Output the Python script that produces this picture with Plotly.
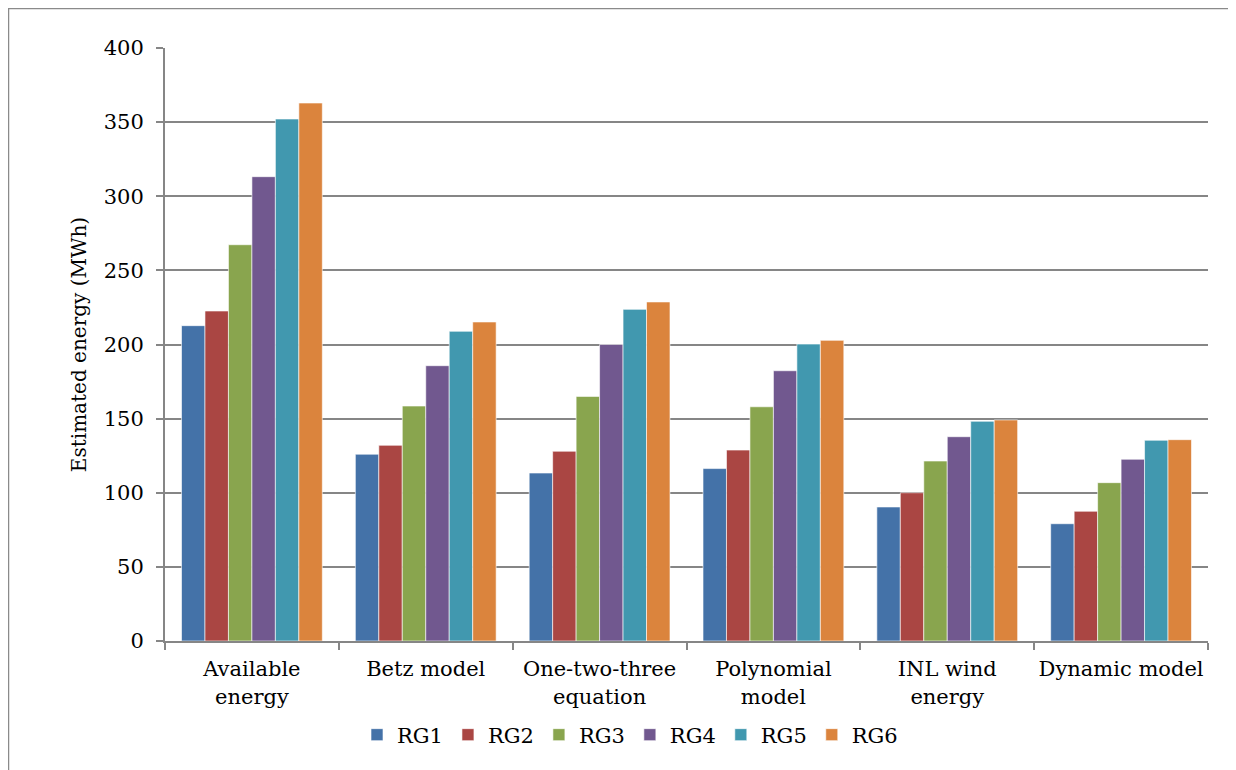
import plotly.graph_objects as go

CATEGORIES = ["Available<br>energy", "Betz model", "One-two-three<br>equation",
              "Polynomial<br>model", "INL wind<br>energy", "Dynamic model"]
SERIES = ["RG1", "RG2", "RG3", "RG4", "RG5", "RG6"]
RG1 = [212.7, 126.0, 113.3, 116.3, 90.4, 79.1]
RG2 = [222.6, 132.0, 128.0, 128.8, 100.0, 87.5]
RG3 = [267.3, 158.5, 165.0, 158.0, 121.4, 106.8]
RG4 = [313.2, 185.7, 200.0, 182.3, 137.8, 122.6]
RG5 = [352.1, 208.9, 223.7, 200.3, 148.2, 135.4]
RG6 = [362.9, 215.2, 228.7, 202.8, 149.1, 135.8]
COLORS = ["#4472a8", "#aa4643", "#89a54e", "#71588f", "#4198af", "#db843d"]

FONT = "DejaVu Serif"
GRID = "#868686"

# page body has an 8px default margin, so the figure sits at (8, 8)
L, R, T, B = 157, 36, 40, 137
PW, PH = 1236 - L - R, 770 - T - B

fig = go.Figure()
for name, vals, color in zip(SERIES, [RG1, RG2, RG3, RG4, RG5, RG6], COLORS):
    fig.add_trace(go.Bar(
        x=CATEGORIES, y=vals, name=name,
        marker=dict(color=color, line=dict(color="rgba(255,255,255,0.6)", width=1)),
    ))

# outer chart frame
fig.add_shape(type="rect", xref="paper", yref="paper",
              x0=(-L + 0.5) / PW, x1=(PW + R + 5) / PW,
              y0=-(B + 10) / PH, y1=1 + (T - 0.5) / PH,
              line=dict(color="#8a8a8a", width=1.5), fillcolor="rgba(0,0,0,0)", layer="below")

fig.update_layout(
    width=1236, height=770,
    margin=dict(l=L, r=R, t=T, b=B),
    paper_bgcolor="white", plot_bgcolor="white",
    font=dict(family=FONT, size=21, color="black"),
    barmode="group", bargap=0.19, bargroupgap=0,
    legend=dict(orientation="h", x=(630 - 165) / PW, xanchor="center",
                y=-(735 - 641) / PH, yanchor="middle",
                font=dict(family=FONT, size=21), itemwidth=30, tracegroupgap=0),
    xaxis=dict(showgrid=False, showline=True, linecolor=GRID, linewidth=2,
               ticks="outside", tickson="boundaries", ticklen=7, tickcolor=GRID, tickwidth=2,
               tickfont=dict(family=FONT, size=21), ticklabelstandoff=8,
               tickangle=0, automargin=False),
    yaxis=dict(range=[0, 400], dtick=50, showgrid=True, gridcolor=GRID, gridwidth=2,
               showline=True, linecolor=GRID, linewidth=2, zeroline=False,
               ticks="outside", ticklen=7, tickcolor=GRID, tickwidth=2,
               tickfont=dict(family=FONT, size=21), ticklabelstandoff=8, automargin=False,
               title=dict(text="Estimated energy (MWh)", font=dict(family=FONT, size=20),
                          standoff=12)),
)

fig.write_html("out.html")
